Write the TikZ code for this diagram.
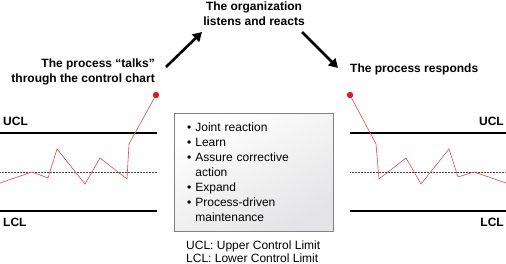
\documentclass[tikz,border=0pt]{standalone}
\usepackage{fontspec}
\setmainfont{Liberation Sans}
\usetikzlibrary{arrows.meta, positioning}
\definecolor{signal}{RGB}{228,72,76}
\definecolor{dotred}{RGB}{222,24,40}
\definecolor{boxline}{RGB}{130,130,130}
\definecolor{boxfill}{RGB}{228,228,230}
\definecolor{midline}{RGB}{70,70,70}

\begin{document}
\begin{tikzpicture}[x=1pt, y=-1pt, font=\fontsize{12}{15}\selectfont]
  \useasboundingbox (0,0) rectangle (506,264);

  % Headings
  \node[font=\bfseries\fontsize{12}{15}\selectfont, align=center, inner sep=0pt, anchor=north] (react) at (254,2) {The organization\\listens and reacts};
  \node[font=\bfseries\fontsize{12}{15}\selectfont, align=right, inner sep=0pt, anchor=north east] (talk) at (155,59) {The process “talks”\\through the control chart};
  \node[font=\bfseries\fontsize{12}{15}\selectfont, inner sep=0pt, anchor=base west] (respond) at (350,73) {The process responds};

  % Arrows
  \coordinate (a1) at (166,67);
  \coordinate (a2) at (202,32);
  \coordinate (b1) at (302,32);
  \coordinate (b2) at (338,68);
  \draw[line width=2.6pt, -{Triangle[length=9pt, width=10pt]}] (a1) -- (a2);
  \draw[line width=2.6pt, -{Triangle[length=9pt, width=10pt]}] (b1) -- (b2);

  % Left chart
  \draw[line width=1.4pt] (0,133) -- (157,133);
  \draw[line width=1.4pt] (0,211) -- (157,211);
  \draw[midline, densely dotted, line width=0.5pt] (0,172) -- (157,172);
  \node[font=\bfseries\fontsize{12}{15}\selectfont, inner sep=0pt, anchor=base west] (ucl1) at (3,126) {UCL};
  \node[font=\bfseries\fontsize{12}{15}\selectfont, inner sep=0pt, anchor=base west] (lcl1) at (3,227) {LCL};
  \draw[signal, line width=0.6pt] plot coordinates {(0,183)(32,172)(48,178)(57,149)(85,184)(100,158)(127,179)(129,144)(156,95)};
  \fill[dotred] (156,95) circle (3.2pt);

  % Right chart
  \draw[line width=1.4pt] (350,133) -- (506,133);
  \draw[line width=1.4pt] (350,211) -- (506,211);
  \draw[midline, densely dotted, line width=0.5pt] (350,172) -- (506,172);
  \node[font=\bfseries\fontsize{12}{15}\selectfont, inner sep=0pt, anchor=base east] (ucl2) at (504,126) {UCL};
  \node[font=\bfseries\fontsize{12}{15}\selectfont, inner sep=0pt, anchor=base east] (lcl2) at (504,227) {LCL};
  \draw[signal, line width=0.6pt] plot coordinates {(350,95)(376,144)(379,179)(406,158)(421,184)(449,149)(458,177)(474,172)(506,183)};
  \fill[dotred] (350,95) circle (3.2pt);

  % Actions box
  \node[draw=boxline, top color=white, bottom color=boxfill, shading angle=30, anchor=north west, text width=133pt, inner xsep=13pt, inner ysep=5.5pt, align=left] (actions) at (174,113) {%
    \begin{tabular}{@{}l@{\hspace{4pt}}l@{}}
      \rule{0pt}{12.5pt}• & Joint reaction\\
      • & Learn\\
      • & Assure corrective\\
        & action\\
      • & Expand\\
      • & Process-driven\\
        & maintenance
    \end{tabular}};

  % Legend
  \node[align=left, inner sep=0pt, anchor=north west, font=\fontsize{12}{12.5}\selectfont] (legend) at (186,241) {UCL: Upper Control Limit\\LCL: Lower Control Limit};
\end{tikzpicture}
\end{document}
